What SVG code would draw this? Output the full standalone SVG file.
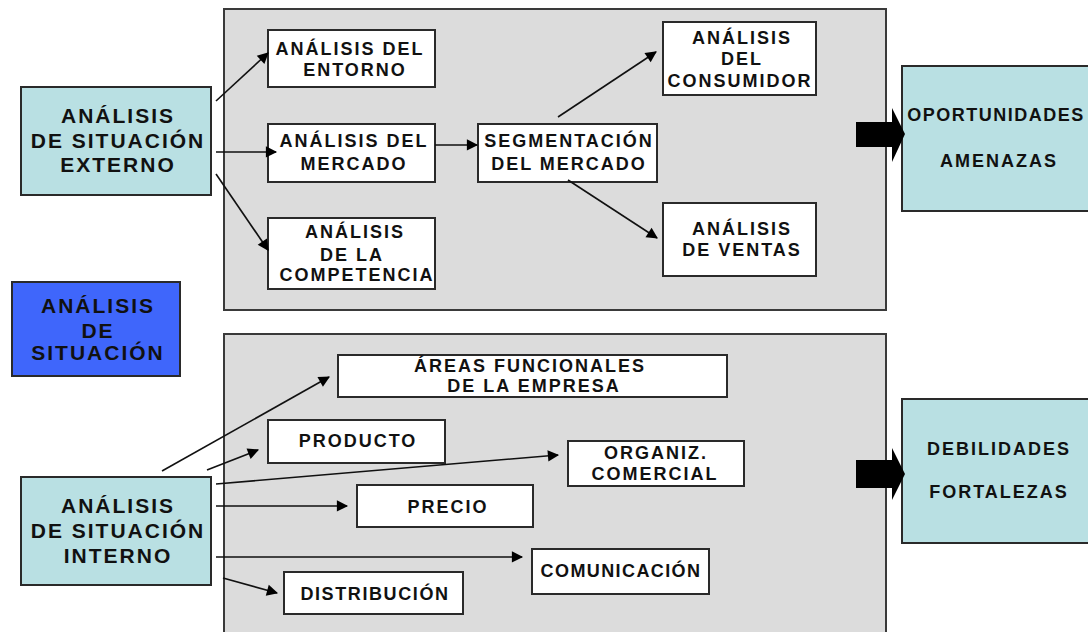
<svg xmlns="http://www.w3.org/2000/svg" width="1088" height="632" viewBox="0 0 1088 632">
<defs>
<style>
.panel{fill:#dcdcdc;stroke:#3a3a3a;stroke-width:2}
.box{fill:#ffffff;stroke:#2a2a2a;stroke-width:2}
.teal{fill:#b9e0e3;stroke:#2a2a2a;stroke-width:2}
.blue{fill:#3f66fb;stroke:#2a2a2a;stroke-width:2}
text{font-family:"Liberation Sans",Arial,sans-serif;font-weight:bold;fill:#111;text-anchor:middle}
.t16{font-size:18px;letter-spacing:2px}
.t20{font-size:21px;letter-spacing:2px}
.t15{font-size:18px;letter-spacing:2px}
.conn line{stroke:#111;stroke-width:1.6;marker-end:url(#ah)}
.big{fill:#000}
</style>
<marker id="ah" viewBox="0 0 10 10" refX="9" refY="5" markerWidth="7" markerHeight="7" markerUnits="userSpaceOnUse" orient="auto" style="overflow:visible">
<path d="M0,0 L10,5 L0,10 z" fill="#000" transform="scale(1.6) translate(-3.4,-1.9)"/>
</marker>
</defs>
<rect width="1088" height="632" fill="#ffffff"/>

<g id="panel-externo"><rect class="panel" x="224" y="9" width="662" height="301"/></g>
<g id="panel-interno"><rect class="panel" x="224" y="334" width="662" height="310"/></g>

<g id="ext"><rect class="teal" x="21" y="87" width="190" height="108"/>
<text class="t20" x="118" y="123">ANÁLISIS</text><text class="t20" x="118" y="148">DE SITUACIÓN</text><text class="t20" x="118" y="172">EXTERNO</text></g>

<g id="sit"><rect class="blue" x="12" y="282" width="168" height="94"/>
<text class="t20" x="98" y="313">ANÁLISIS</text><text class="t20" x="98" y="338">DE</text><text class="t20" x="98" y="360">SITUACIÓN</text></g>

<g id="int"><rect class="teal" x="21" y="477" width="190" height="108"/>
<text class="t20" x="118" y="513">ANÁLISIS</text><text class="t20" x="118" y="538">DE SITUACIÓN</text><text class="t20" x="118" y="563">INTERNO</text></g>

<g id="entorno"><rect class="box" x="268" y="30" width="167" height="57"/>
<text class="t16" x="350" y="55">ANÁLISIS DEL</text><text class="t16" x="355" y="76">ENTORNO</text></g>

<g id="mercado"><rect class="box" x="268" y="124" width="167" height="58"/>
<text class="t16" x="354" y="147">ANÁLISIS DEL</text><text class="t16" x="354" y="170">MERCADO</text></g>

<g id="competencia"><rect class="box" x="268" y="218" width="167" height="71"/>
<text class="t16" x="355" y="238">ANÁLISIS</text><text class="t16" x="352" y="261">DE LA</text><text class="t16" x="357" y="281">COMPETENCIA</text></g>

<g id="segmentacion"><rect class="box" x="478" y="124" width="179" height="58"/>
<text class="t16" x="569" y="147">SEGMENTACIÓN</text><text class="t16" x="569" y="170">DEL MERCADO</text></g>

<g id="consumidor"><rect class="box" x="663" y="22" width="153" height="73"/>
<text class="t16" x="742" y="44">ANÁLISIS</text><text class="t16" x="742" y="65">DEL</text><text class="t16" x="740" y="87">CONSUMIDOR</text></g>

<g id="ventas"><rect class="box" x="663" y="203" width="153" height="73"/>
<text class="t16" x="742" y="235">ANÁLISIS</text><text class="t16" x="742" y="256">DE VENTAS</text></g>

<g id="oportunidades"><rect class="teal" x="902" y="66" width="200" height="145"/>
<text class="t15" x="996" y="121" style="letter-spacing:1.5px">OPORTUNIDADES</text><text class="t15" x="999" y="167">AMENAZAS</text></g>

<g id="debilidades"><rect class="teal" x="902" y="399" width="200" height="144"/>
<text class="t15" x="999" y="455">DEBILIDADES</text><text class="t15" x="999" y="498">FORTALEZAS</text></g>

<g id="areas"><rect class="box" x="338" y="355" width="389" height="42"/>
<text class="t16" x="530" y="372">ÁREAS FUNCIONALES</text><text class="t16" x="534" y="392">DE LA EMPRESA</text></g>

<g id="producto"><rect class="box" x="268" y="420" width="177" height="43"/>
<text class="t16" x="358" y="447">PRODUCTO</text></g>

<g id="organiz"><rect class="box" x="568" y="441" width="176" height="45"/>
<text class="t16" x="656" y="459">ORGANIZ.</text><text class="t16" x="655" y="480">COMERCIAL</text></g>

<g id="precio"><rect class="box" x="357" y="485" width="176" height="42"/>
<text class="t16" x="448" y="513">PRECIO</text></g>

<g id="comunicacion"><rect class="box" x="532" y="549" width="177" height="45"/>
<text class="t16" x="621" y="577" style="letter-spacing:1.4px">COMUNICACIÓN</text></g>

<g id="distribucion"><rect class="box" x="284" y="572" width="179" height="42"/>
<text class="t16" x="375" y="600" style="letter-spacing:1.6px">DISTRIBUCIÓN</text></g>

<g id="connectors" class="conn">
<line x1="216" y1="101" x2="268" y2="53"/>
<line x1="216" y1="152" x2="276" y2="152"/>
<line x1="216" y1="174" x2="268" y2="250"/>
<line x1="435" y1="145" x2="477" y2="145"/>
<line x1="558" y1="117" x2="656" y2="52"/>
<line x1="568" y1="180" x2="657" y2="238"/>
<line x1="162" y1="471" x2="329" y2="377"/>
<line x1="207" y1="470" x2="258" y2="450"/>
<line x1="216" y1="484" x2="558" y2="455"/>
<line x1="216" y1="506" x2="347" y2="506"/>
<line x1="216" y1="557" x2="522" y2="557"/>
<line x1="223" y1="578" x2="277" y2="593"/>
<path class="big" d="M856,122 H892 V108 L905,134 L892,162 V147 H856 Z"/>
<path class="big" d="M856,460 H892 V448 L905,474 L892,500 V488 H856 Z"/>
</g>
</svg>
